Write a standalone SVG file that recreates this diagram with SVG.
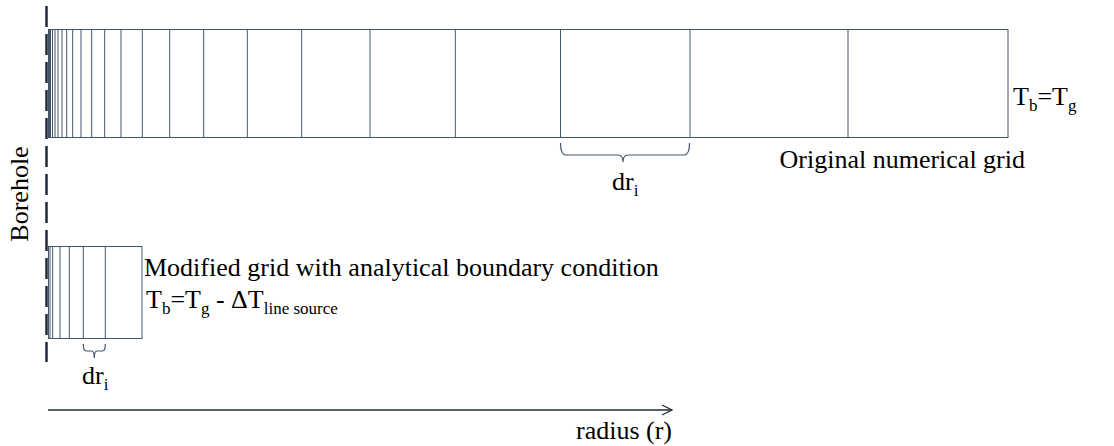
<svg xmlns="http://www.w3.org/2000/svg" width="1114" height="446" viewBox="0 0 1114 446">
<style>
.grid{fill:none;stroke:#44546a;stroke-width:1}
.br{fill:none;stroke:#44546a;stroke-width:1.2}
.t{font-family:"Liberation Serif","Times New Roman",serif;font-size:26px;fill:#000}
.dash{stroke:#1f2d3d;stroke-width:2.5;stroke-dasharray:21 7}
.ax{stroke:#1f2d3d;stroke-width:1.5;fill:none}
</style>
<defs>
<marker id="arr" viewBox="0 0 12 12" refX="11" refY="6" markerWidth="12" markerHeight="12" markerUnits="userSpaceOnUse" orient="auto">
<path d="M1,1 L11,6 L1,11" fill="none" stroke="#1f2d3d" stroke-width="1.3"/>
</marker>
</defs>
<g id="borehole">
<line class="dash" x1="46.5" y1="6" x2="46.5" y2="362"/>
<text class="t" transform="translate(28,194) rotate(-90)" text-anchor="middle">Borehole</text>
</g>
<g id="original-grid">
<rect class="grid" x="48.5" y="29.5" width="959.5" height="108"/>
<path class="grid" d="M49.5,29.5V137.5M50.5,29.5V137.5M52.5,29.5V137.5M55,29.5V137.5M58,29.5V137.5M62,29.5V137.5M66.7,29.5V137.5M72.7,29.5V137.5M81,29.5V137.5M91.7,29.5V137.5M104.7,29.5V137.5M121,29.5V137.5M142.3,29.5V137.5M169.7,29.5V137.5M203.7,29.5V137.5M247.3,29.5V137.5M301.7,29.5V137.5M370,29.5V137.5M455.3,29.5V137.5M560.5,29.5V137.5M690,29.5V137.5M848,29.5V137.5"/>
<text class="t" x="1013" y="105">T<tspan font-size="17" dy="6">b</tspan><tspan dy="-6">=T</tspan><tspan font-size="17" dy="6">g</tspan></text>
<path class="br" d="M560.5,143 Q560.5,155 566,155 H618 Q623,155 623,162 Q623,155 628,155 H684 Q689.5,155 689.5,143"/>
<text class="t" x="612" y="190">dr<tspan font-size="17" dy="6">i</tspan></text>
<text class="t" x="1025" y="168" text-anchor="end" font-size="27">Original numerical grid</text>
</g>
<g id="modified-grid">
<rect class="grid" x="48.5" y="246.5" width="93.5" height="92"/>
<path class="grid" d="M50,246.5V338.5M52.7,246.5V338.5M60,246.5V338.5M69.3,246.5V338.5M83.3,246.5V338.5M105.3,246.5V338.5"/>
<path class="br" d="M83.3,344 Q83.3,351 86,351 H91.5 Q94.3,351 94.3,358 Q94.3,351 97,351 H102.5 Q105.3,351 105.3,344"/>
<text class="t" x="82" y="384">dr<tspan font-size="17" dy="6">i</tspan></text>
<text class="t" x="144" y="276">Modified grid with analytical boundary condition</text>
<text class="t" x="146" y="308">T<tspan font-size="17" dy="6">b</tspan><tspan dy="-6">=T</tspan><tspan font-size="17" dy="6">g</tspan><tspan dy="-6"> - ΔT</tspan><tspan font-size="17" dy="6">line source</tspan></text>
</g>
<g id="connectors">
<line class="ax" x1="48" y1="410" x2="672" y2="410" marker-end="url(#arr)"/>
<text class="t" x="672" y="439" text-anchor="end">radius (r)</text>
</g>
</svg>
